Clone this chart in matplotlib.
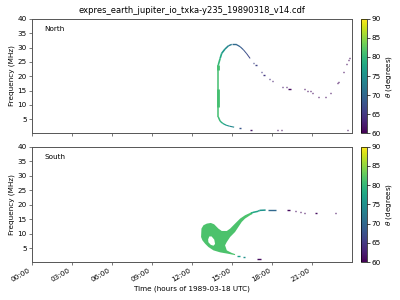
import numpy as np
import matplotlib
matplotlib.use('Agg')
import matplotlib.pyplot as plt
from matplotlib.collections import LineCollection
from matplotlib.colors import Normalize
from matplotlib.cm import ScalarMappable

title = 'expres_earth_jupiter_io_txka-y235_19890318_v14.cdf'
hour_ticks = [0, 3, 6, 9, 12, 15, 18, 21]
hour_labels = ['00:00', '03:00', '06:00', '09:00', '12:00', '15:00', '18:00', '21:00']

# North: continuous branches (hour, MHz, theta deg)
n_top_t = [14.0, 14.0, 14.14, 14.26, 14.51, 14.76, 15.01, 15.34, 15.64, 15.89, 16.14, 16.39]
n_top_f = [5.8, 23.9, 26.2, 28.0, 29.5, 30.6, 31.1, 31.1, 30.3, 29.2, 27.8, 26.2]
n_top_th = [81, 81, 79, 77, 75, 73, 71, 70, 69, 68, 67, 66]
n_top_lw = [1.1, 1.2, 1.2, 1.2, 1.1, 1.0, 1.0, 0.9, 0.8, 0.7, 0.7]
n_bot_t = [14.0, 14.14, 14.34, 14.59, 14.84, 15.19]
n_bot_f = [5.8, 4.3, 3.5, 2.9, 2.55, 2.2]
n_bot_th = [81, 80, 78, 76, 75, 73]
n_bot_lw = [1.1, 1.0, 0.9, 0.8, 0.8]
# thicker bits of the vertical stroke
n_thick_lo = [22.2, 9.3]
n_thick_hi = [23.9, 15.4]

# North: isolated marks (start hour, end hour, MHz, theta)
n_m_t0 = [16.58, 16.78, 17.2, 17.38, 17.8, 18.05, 18.77, 19.05, 19.25, 20.42, 20.65, 20.85,
          21.02, 21.47, 22.0, 22.37, 22.9, 22.95, 23.35, 23.6, 23.7, 23.78,
          15.55, 16.35, 18.4, 18.68, 23.66]
n_m_t1 = [16.68, 16.92, 17.3, 17.48, 17.88, 18.13, 18.85, 19.13, 19.42, 20.5, 20.73, 20.93,
          21.1, 21.55, 22.08, 22.45, 22.98, 23.03, 23.43, 23.68, 23.78, 23.86,
          15.72, 16.52, 18.48, 18.76, 23.74]
n_m_f = [24.7, 23.8, 21.3, 20.5, 18.9, 18.2, 16.3, 16.1, 15.7, 15.4, 15.0, 14.7,
         14.0, 12.6, 12.9, 14.3, 17.5, 18.0, 21.6, 24.1, 25.6, 26.5,
         1.75, 1.35, 1.16, 1.16, 1.16]
n_m_th = [66, 66, 65, 65, 64, 63, 62, 62, 61, 61, 61, 61,
          61, 61, 61, 61, 61, 61, 61, 61, 61, 61,
          68, 62, 61, 61, 61]

# South: main blob outline, hole, tail
s_blob_t = [12.71, 12.74, 12.89, 13.14, 13.44, 13.69, 14.01, 14.26, 14.64, 14.89, 15.26, 15.64,
            16.01, 16.39, 16.55, 16.55, 16.39, 16.01, 15.76, 15.51, 15.26, 14.89, 14.64, 14.51,
            14.64, 15.01, 15.26, 15.26, 14.64, 14.14, 13.64, 13.26, 13.01, 12.81, 12.71]
s_blob_f = [8.81, 11.7, 12.86, 13.43, 13.66, 13.2, 11.7, 10.89, 10.89, 11.7, 13.43, 15.17,
            16.32, 17.13, 17.4, 16.7, 16.32, 15.17, 14.01, 12.28, 10.54, 8.81, 7.08, 5.93,
            4.19, 3.3, 2.9, 2.55, 3.1, 3.5, 4.19, 5.35, 6.5, 7.66, 8.81]
s_blob_th = 81.5
s_hole_t = [13.24, 13.33, 13.5, 13.7, 13.76, 13.64, 13.44, 13.26]
s_hole_f = [8.0, 9.0, 9.0, 7.9, 6.4, 5.8, 6.1, 7.0]
s_tail_t = [16.45, 16.6, 17.0, 17.1, 17.55]
s_tail_f = [17.0, 17.3, 17.7, 18.0, 18.1]
s_tail_th = [79, 78, 77, 76, 75]

s_m_t0 = [17.76, 19.14, 19.76, 20.1, 20.4, 21.26, 22.72, 15.4, 15.85, 16.89]
s_m_t1 = [18.34, 19.39, 19.84, 20.22, 20.48, 21.4, 22.8, 15.6, 16.0, 17.19]
s_m_f = [18.3, 18.3, 17.9, 17.6, 17.25, 17.25, 17.25, 2.1, 1.9, 1.3]
s_m_th = [70, 61, 61, 61, 61, 61, 61, 77, 75, 61]

cmap = plt.get_cmap('viridis')
norm = Normalize(vmin=60, vmax=90)
fs = 5.2


def branch(ax, t, f, th, lw=1.1):
    pts = np.column_stack([t, f])
    segs = np.stack([pts[:-1], pts[1:]], axis=1)
    th = np.asarray(th, dtype=float)
    lc = LineCollection(segs, cmap=cmap, norm=norm, linewidths=lw, capstyle='butt')
    lc.set_array((th[:-1] + th[1:]) / 2)
    ax.add_collection(lc)


def marks(ax, t0, t1, f, th):
    ax.hlines(f, t0, t1, colors=cmap(norm(np.asarray(th))), linewidth=1.0)


def style(ax, name):
    ax.set_xlim(0, 24)
    ax.set_ylim(0.1, 40)
    ax.set_yticks(range(5, 41, 5))
    ax.set_xticks(hour_ticks)
    ax.set_ylabel('Frequency (MHz)', fontsize=fs, labelpad=2)
    ax.tick_params(labelsize=fs, length=2, width=0.5, color='#444444', pad=1.5)
    for s in ax.spines.values():
        s.set_color('#555555')
        s.set_linewidth(0.7)
    ax.text(0.039, 0.91, name, transform=ax.transAxes, fontsize=fs, va='center')


fig = plt.figure(figsize=(4, 3), dpi=100)
ax1 = fig.add_axes([0.079, 0.556, 0.8, 0.381])
ax2 = fig.add_axes([0.079, 0.126, 0.8, 0.385])
cax1 = fig.add_axes([0.9025, 0.556, 0.015, 0.381])
cax2 = fig.add_axes([0.9025, 0.126, 0.015, 0.385])

# North panel
branch(ax1, n_top_t, n_top_f, n_top_th, n_top_lw)
branch(ax1, n_bot_t, n_bot_f, n_bot_th, n_bot_lw)
ax1.vlines([14.0] * len(n_thick_lo), n_thick_lo, n_thick_hi,
           colors=[cmap(norm(81))], linewidth=2.0)
marks(ax1, n_m_t0, n_m_t1, n_m_f, n_m_th)
style(ax1, 'North')
ax1.set_xticklabels([])
ax1.set_title(title, fontsize=6, pad=4)

# South panel
ax2.fill(s_blob_t, s_blob_f, color=cmap(norm(s_blob_th)), linewidth=0)
ax2.fill(s_hole_t, s_hole_f, color='white', linewidth=0)
branch(ax2, s_tail_t, s_tail_f, s_tail_th)
marks(ax2, s_m_t0, s_m_t1, s_m_f, s_m_th)
style(ax2, 'South')
ax2.set_xticklabels(hour_labels, rotation=30, ha='right')
ax2.set_xlabel('Time (hours of 1989-03-18 UTC)', fontsize=fs, labelpad=2)

for cax in (cax1, cax2):
    cb = fig.colorbar(ScalarMappable(norm=norm, cmap=cmap), cax=cax)
    cb.set_ticks(range(60, 91, 5))
    cb.ax.tick_params(labelsize=fs, length=2, width=0.5, pad=1.5)
    cb.outline.set_linewidth(0.5)
    cb.set_label(r'$\theta$ (degrees)', fontsize=fs, labelpad=2)

fig.savefig('out.png', dpi=100)
